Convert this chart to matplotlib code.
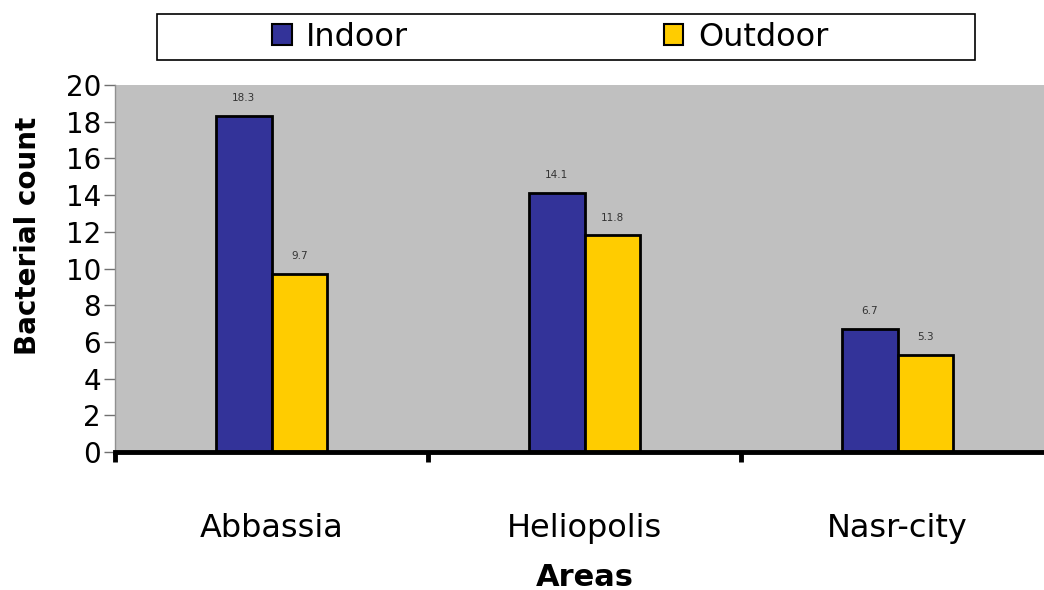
import numpy as np
import matplotlib.pyplot as plt
from matplotlib.patches import Patch, Rectangle

areas = ["Abbassia", "Heliopolis", "Nasr-city"]
indoor = [18.3, 14.1, 6.7]
outdoor = [9.7, 11.8, 5.3]
yticks = [0, 2, 4, 6, 8, 10, 12, 14, 16, 18, 20]

c_in = "#333399"
c_out = "#FFCC00"

fig = plt.figure(figsize=(10.44, 5.9), dpi=100)
ax = fig.add_axes([115 / 1044, 138 / 590, 939 / 1044, 367 / 590])
ax.set_facecolor("#C0C0C0")

x = np.arange(len(areas))
w = 0.178
b1 = ax.bar(x - w / 2, indoor, w, color=c_in, edgecolor="black", linewidth=2, zorder=3)
b2 = ax.bar(x + w / 2, outdoor, w, color=c_out, edgecolor="black", linewidth=2, zorder=3)

for bars, vals in [(b1, indoor), (b2, outdoor)]:
    for r, v in zip(bars, vals):
        ax.text(r.get_x() + r.get_width() / 2, v + 0.7, str(v), ha="center", va="bottom",
                fontsize=7.5, color="#333333")

ax.set_xlim(-0.5, 2.5)
ax.set_ylim(0, 20)
ax.set_yticks(yticks)
ax.tick_params(axis="y", labelsize=20, length=8, width=1, color="#707070", pad=2)

ax.set_xticks([-0.5, 0.5, 1.5, 2.5])
ax.set_xticklabels([])
ax.tick_params(axis="x", which="major", length=7, width=3.5, color="black", direction="out")
ax.set_xticks(x, minor=True)
ax.set_xticklabels(areas, minor=True, fontsize=23)
ax.tick_params(axis="x", which="minor", length=0, pad=44)

for s in ["top", "right"]:
    ax.spines[s].set_visible(False)
ax.spines["bottom"].set_linewidth(3.5)
ax.spines["bottom"].set_zorder(4)
ax.spines["left"].set_color("#909090")
ax.spines["left"].set_linewidth(1)

ax.set_ylabel("Bacterial count", fontsize=20, fontweight="bold")
ax.yaxis.set_label_coords(-0.078, 0.59)
ax.set_xlabel("Areas", fontsize=22, fontweight="bold", va="center")
ax.xaxis.set_label_coords(0.5, -0.342)

# legend frame drawn separately so it can be wider than the entries
fig.patches.append(Rectangle((157 / 1044, 1 - 60 / 590), 818 / 1044, 46 / 590,
                             transform=fig.transFigure, facecolor="white",
                             edgecolor="black", linewidth=1.2))
handles = [Patch(facecolor=c_in, edgecolor="black", linewidth=1.5),
           Patch(facecolor=c_out, edgecolor="black", linewidth=1.5)]
leg = fig.legend(handles, ["Indoor", "Outdoor"], ncol=2, loc="center",
                 bbox_to_anchor=(550 / 1044, 1 - 37 / 590),
                 prop={"size": 23}, frameon=False,
                 handlelength=0.62, handleheight=0.62,
                 handletextpad=0.45, columnspacing=8.0, borderaxespad=0)

fig.savefig("out.png", dpi=100)
